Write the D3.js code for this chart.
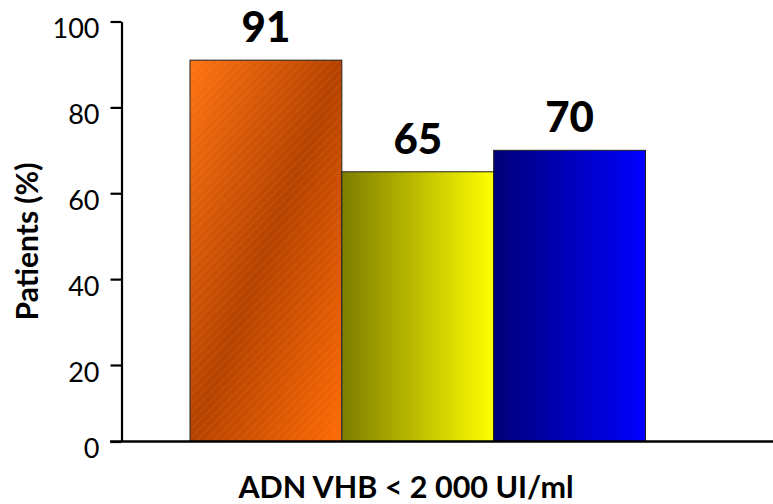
<!DOCTYPE html>
<html>
<head>
<meta charset="utf-8">
<script src="https://cdn.jsdelivr.net/npm/d3@7"></script>
<style>
  html, body { margin: 0; padding: 0; background: #fff; }
  svg { display: block; }
  text { font-family: Lato, "Open Sans", sans-serif; fill: #000; }
</style>
</head>
<body>
<svg id="chart" width="773" height="504"></svg>
<script>
// Share of patients reaching HBV DNA < 2 000 IU/ml, per group
const groups = ["Groupe A", "Groupe B", "Groupe C"];
const values = [91, 65, 70];
const yTicks = [0, 20, 40, 60, 80, 100];
const xTitle = "ADN VHB < 2 000 UI/ml";
const yTitle = "Patients (%)";

const svg = d3.select("#chart");
const defs = svg.append("defs");

// Orange: diagonal light-dark-light sweep with fine hatching on top
const gOrange = defs.append("linearGradient").attr("id", "gOrange")
  .attr("x1", 0).attr("y1", 0).attr("x2", 1).attr("y2", 1);
[[0, "#ff7412"], [0.5, "#b54200"], [1, "#ff6c06"]].forEach(([o, c]) =>
  gOrange.append("stop").attr("offset", o).attr("stop-color", c));

const hatch = defs.append("pattern").attr("id", "hatch")
  .attr("patternUnits", "userSpaceOnUse").attr("width", 6).attr("height", 6)
  .attr("patternTransform", "rotate(45)");
hatch.append("line").attr("x1", 0).attr("y1", 0).attr("x2", 0).attr("y2", 6)
  .attr("stroke", "#ffb070").attr("stroke-opacity", 0.3).attr("stroke-width", 0.8);

// Yellow: olive to bright yellow, left to right
const gYellow = defs.append("linearGradient").attr("id", "gYellow")
  .attr("x1", 0).attr("y1", 0).attr("x2", 1).attr("y2", 0);
[[0, "#7d7d00"], [1, "#ffff00"]].forEach(([o, c]) =>
  gYellow.append("stop").attr("offset", o).attr("stop-color", c));

// Blue: navy to pure blue, left to right
const gBlue = defs.append("linearGradient").attr("id", "gBlue")
  .attr("x1", 0).attr("y1", 0).attr("x2", 1).attr("y2", 0);
[[0, "#000078"], [1, "#0000ff"]].forEach(([o, c]) =>
  gBlue.append("stop").attr("offset", o).attr("stop-color", c));

const fills = ["url(#gOrange)", "url(#gYellow)", "url(#gBlue)"];

const axisX = 121.5, baseY = 441.5;

const x = d3.scaleBand().domain(groups).range([190, 645.5]).padding(0);
const y = d3.scaleLinear().domain([0, 20, 100]).range([baseY, 365, 21.5]);

// Bars
const bars = svg.append("g");
groups.forEach((g, i) => {
  const bx = x(g), bw = x.bandwidth(), by = y(values[i]), bh = y(0) - y(values[i]);
  bars.append("rect").attr("x", bx).attr("y", by).attr("width", bw).attr("height", bh)
    .attr("fill", fills[i]);
  if (i === 0) {
    bars.append("rect").attr("x", bx).attr("y", by).attr("width", bw).attr("height", bh)
      .attr("fill", "url(#hatch)");
  }
  bars.append("rect").attr("x", bx).attr("y", by).attr("width", bw).attr("height", bh)
    .attr("fill", "none").attr("stroke", "#222").attr("stroke-width", 1);
});

// Value labels
svg.append("g").selectAll("text").data(groups).join("text")
  .attr("x", d => x(d) + x.bandwidth() / 2)
  .attr("y", (d, i) => y(values[i]) - 18)
  .attr("text-anchor", "middle")
  .style("font-weight", 900).style("font-size", "42px")
  .text((d, i) => values[i]);

// Y axis
const yAxis = svg.append("g").attr("transform", `translate(${axisX},0)`)
  .call(d3.axisLeft(y).tickValues(yTicks).tickSize(11).tickSizeOuter(0).tickPadding(11)
    .tickFormat(d3.format("d")));
yAxis.select(".domain").attr("stroke", "#000").attr("stroke-width", 2.2);
yAxis.selectAll(".tick line").attr("stroke", "#000").attr("stroke-width", 2.2);
yAxis.selectAll(".tick text").style("font-size", "27px").style("font-family", "Lato, sans-serif")
  .attr("dy", "0.6em").attr("fill", "#000");

// X axis baseline
svg.append("line").attr("x1", 110).attr("x2", 773).attr("y1", baseY).attr("y2", baseY)
  .attr("stroke", "#000").attr("stroke-width", 2.5);

// Axis titles
svg.append("text").attr("x", 406).attr("y", 498).attr("text-anchor", "middle")
  .style("font-weight", 700).style("font-size", "30.5px").text(xTitle);

svg.append("text").attr("transform", "translate(38,241.5) rotate(-90)")
  .attr("text-anchor", "middle")
  .style("font-weight", 700).style("font-size", "30px").text(yTitle);
</script>
</body>
</html>
